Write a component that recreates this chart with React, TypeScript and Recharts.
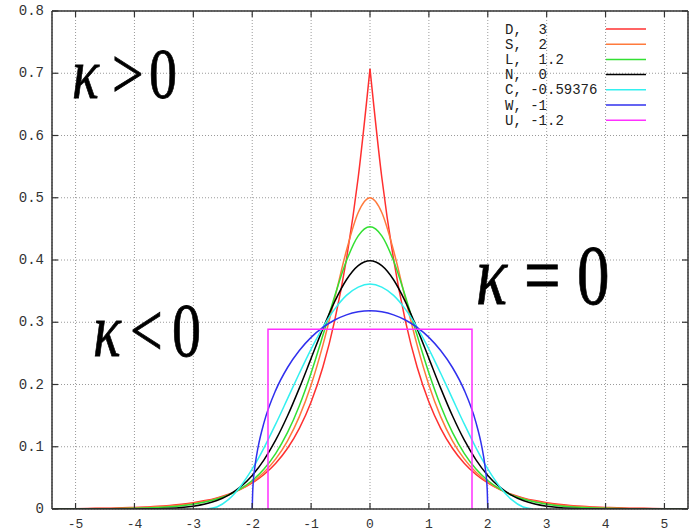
import { LineChart, Line, XAxis, YAxis, CartesianGrid, ReferenceLine } from "recharts";

// sample positions shared by the long-tailed curves
const X_GRID = [
  -5.4, -5.2, -5.0, -4.8, -4.6, -4.4, -4.2, -4.0, -3.8, -3.6, -3.4, -3.2, -3.0, -2.8,
  -2.6, -2.4, -2.2, -2.0, -1.8, -1.6, -1.4, -1.2, -1.0, -0.8, -0.6, -0.4, -0.2, 0,
  0.2, 0.4, 0.6, 0.8, 1.0, 1.2, 1.4, 1.6, 1.8, 2.0, 2.2, 2.4, 2.6, 2.8,
  3.0, 3.2, 3.4, 3.6, 3.8, 4.0, 4.2, 4.4, 4.6, 4.8, 5.0, 5.2, 5.4,
];

const D_VALUES = [
  0.0003, 0.0005, 0.0006, 0.0008, 0.0011, 0.0014, 0.0019, 0.0025, 0.0033, 0.0043, 0.0058, 0.0077, 0.0102, 0.0135,
  0.0179, 0.0237, 0.0315, 0.0418, 0.0555, 0.0736, 0.0976, 0.1296, 0.1719, 0.2281, 0.3027, 0.4016, 0.5329, 0.7071,
  0.5329, 0.4016, 0.3027, 0.2281, 0.1719, 0.1296, 0.0976, 0.0736, 0.0555, 0.0418, 0.0315, 0.0237, 0.0179, 0.0135,
  0.0102, 0.0077, 0.0058, 0.0043, 0.0033, 0.0025, 0.0019, 0.0014, 0.0011, 0.0008, 0.0006, 0.0005, 0.0003,
];

const S_VALUES = [
  0.0002, 0.0003, 0.0004, 0.0005, 0.0007, 0.001, 0.0014, 0.0019, 0.0026, 0.0035, 0.0048, 0.0066, 0.009, 0.0123,
  0.0168, 0.023, 0.0315, 0.0431, 0.059, 0.0805, 0.1096, 0.1484, 0.1993, 0.2633, 0.3383, 0.4153, 0.4763, 0.5,
  0.4763, 0.4153, 0.3383, 0.2633, 0.1993, 0.1484, 0.1096, 0.0805, 0.059, 0.0431, 0.0315, 0.023, 0.0168, 0.0123,
  0.009, 0.0066, 0.0048, 0.0035, 0.0026, 0.0019, 0.0014, 0.001, 0.0007, 0.0005, 0.0004, 0.0003, 0.0002,
];

const L_VALUES = [
  0.0001, 0.0001, 0.0002, 0.0003, 0.0004, 0.0006, 0.0009, 0.0013, 0.0018, 0.0026, 0.0038, 0.0054, 0.0078, 0.0112,
  0.016, 0.0227, 0.0323, 0.0457, 0.0643, 0.0895, 0.123, 0.166, 0.2186, 0.279, 0.3418, 0.3987, 0.4388, 0.4534,
  0.4388, 0.3987, 0.3418, 0.279, 0.2186, 0.166, 0.123, 0.0895, 0.0643, 0.0457, 0.0323, 0.0227, 0.016, 0.0112,
  0.0078, 0.0054, 0.0038, 0.0026, 0.0018, 0.0013, 0.0009, 0.0006, 0.0004, 0.0003, 0.0002, 0.0001, 0.0001,
];

const N_VALUES = [
  0, 0, 0, 0, 0, 0, 0.0001, 0.0001, 0.0003, 0.0006, 0.0012, 0.0024, 0.0044, 0.0079,
  0.0136, 0.0224, 0.0355, 0.054, 0.079, 0.1109, 0.1497, 0.1942, 0.242, 0.2897, 0.3332, 0.3683, 0.391, 0.3989,
  0.391, 0.3683, 0.3332, 0.2897, 0.242, 0.1942, 0.1497, 0.1109, 0.079, 0.054, 0.0355, 0.0224, 0.0136, 0.0079,
  0.0044, 0.0024, 0.0012, 0.0006, 0.0003, 0.0001, 0.0001, 0, 0, 0, 0, 0, 0,
];

// raised cosine, bounded support
const C_X = [
  -2.7662, -2.6, -2.4, -2.2, -2.0, -1.8, -1.6, -1.4, -1.2, -1.0, -0.8, -0.6, -0.4, -0.2, 0,
  0.2, 0.4, 0.6, 0.8, 1.0, 1.2, 1.4, 1.6, 1.8, 2.0, 2.2, 2.4, 2.6, 2.7662,
];
const C_VALUES = [
  0, 0.0032, 0.0154, 0.0362, 0.0643, 0.0983, 0.1367, 0.1773, 0.218, 0.2569, 0.2919, 0.3211, 0.3432, 0.3565, 0.3615,
  0.3565, 0.3432, 0.3211, 0.2919, 0.2569, 0.218, 0.1773, 0.1367, 0.0983, 0.0643, 0.0362, 0.0154, 0.0032, 0,
];

// Wigner semicircle
const W_X = [
  -2.0, -1.99, -1.95, -1.9, -1.8, -1.6, -1.4, -1.2, -1.0, -0.8, -0.6, -0.4, -0.2, 0,
  0.2, 0.4, 0.6, 0.8, 1.0, 1.2, 1.4, 1.6, 1.8, 1.9, 1.95, 1.99, 2.0,
];
const W_VALUES = [
  0, 0.0318, 0.0707, 0.0994, 0.1387, 0.191, 0.2273, 0.2546, 0.2757, 0.2917, 0.3036, 0.3119, 0.3167, 0.3183,
  0.3167, 0.3119, 0.3036, 0.2917, 0.2757, 0.2546, 0.2273, 0.191, 0.1387, 0.0994, 0.0707, 0.0318, 0,
];

// uniform box
const U_X = [-1.7321, -1.7321, 1.7321, 1.7321];
const U_VALUES = [0, 0.2887, 0.2887, 0];

const SERIES_NAMES = ["D", "S", "L", "N", "C", "W", "U"];
const SERIES_KURTOSIS = ["3", "2", "1.2", "0", "-0.59376", "-1", "-1.2"];
const SERIES_COLORS = ["#ff3030", "#ff7a3c", "#33e033", "#000000", "#33f0f0", "#3030ee", "#ff30ff"];

const X_TICKS = [-5, -4, -3, -2, -1, 0, 1, 2, 3, 4, 5];
const Y_TICKS = [0, 0.1, 0.2, 0.3, 0.4, 0.5, 0.6, 0.7, 0.8];

const PLOT_TOP = 11;
const PLOT_RIGHT = 688;
const FRAME = "#333";
const MONO = "'Liberation Mono', 'DejaVu Sans Mono', monospace";
const SERIF = "'Liberation Serif', 'Times New Roman', serif";

const pts = (xs: number[], ys: number[]) => xs.map((x, i) => ({ x, y: ys[i] }));

const gridPts = (ys: number[]) => pts(X_GRID, ys);

// laplace split at the cusp so the smooth interpolation keeps a sharp peak
const dPoints = gridPts(D_VALUES);
const dLeft = dPoints.filter((p) => p.x <= 0);
const dRight = dPoints.filter((p) => p.x >= 0);

const seriesData = [
  null,
  gridPts(S_VALUES),
  gridPts(L_VALUES),
  gridPts(N_VALUES),
  pts(C_X, C_VALUES),
  pts(W_X, W_VALUES),
  pts(U_X, U_VALUES),
];

function XTick(props: any) {
  const { x, y, payload } = props;
  return (
    <g>
      <line x1={x} y1={y} x2={x} y2={y - 6} stroke={FRAME} strokeWidth={1.2} />
      <line x1={x} y1={PLOT_TOP} x2={x} y2={PLOT_TOP + 6} stroke={FRAME} strokeWidth={1.2} />
      <text x={x} y={y + 15} textAnchor="middle" dominantBaseline="central" fontFamily={MONO} fontSize={13} fill="#333">
        {payload.value}
      </text>
    </g>
  );
}

function YTick(props: any) {
  const { x, y, payload } = props;
  const v = payload.value as number;
  return (
    <g>
      <line x1={x} y1={y} x2={x + 6} y2={y} stroke={FRAME} strokeWidth={1.2} />
      <line x1={PLOT_RIGHT} y1={y} x2={PLOT_RIGHT - 6} y2={y} stroke={FRAME} strokeWidth={1.2} />
      <text x={x - 8} y={y} textAnchor="end" dominantBaseline="central" fontFamily={MONO} fontSize={14} fill="#333">
        {v === 0 ? "0" : v.toFixed(1)}
      </text>
    </g>
  );
}

function Kappa({ x, y, size, rel, relX, zeroX }: { x: number; y: number; size: number; rel: string; relX: number; zeroX: number }) {
  const st = { fontFamily: SERIF, fontSize: size, fill: "#000", stroke: "#000", strokeWidth: 0.6 };
  return (
    <g transform={`translate(0, ${y}) scale(1, 1.3)`}>
      <text x={x} y={0} style={{ ...st, fontStyle: "italic" }}>κ</text>
      <text x={relX} y={0} style={st}>{rel}</text>
      <text x={zeroX} y={0} style={st}>0</text>
    </g>
  );
}

export default function App() {
  return (
    <div style={{ position: "absolute", left: 0, top: 0, width: 689, height: 532, background: "#fff" }}>
      <LineChart width={689} height={532} margin={{ top: PLOT_TOP, right: 1, bottom: 0, left: 0 }}>
        <CartesianGrid stroke="#9a9a9a" strokeDasharray="1 2" />
        <XAxis
          type="number"
          dataKey="x"
          domain={[-5.4, 5.4]}
          ticks={X_TICKS}
          allowDataOverflow
          height={23}
          tickSize={0}
          tickMargin={0}
          tickLine={false}
          axisLine={{ stroke: FRAME, strokeWidth: 1.5 }}
          tick={XTick}
        />
        <YAxis
          type="number"
          dataKey="y"
          domain={[0, 0.8]}
          ticks={Y_TICKS}
          allowDataOverflow
          width={52}
          tickSize={0}
          tickMargin={0}
          tickLine={false}
          axisLine={{ stroke: FRAME, strokeWidth: 1.5 }}
          tick={YTick}
        />
        <ReferenceLine y={0.8} stroke={FRAME} strokeWidth={1.5} />
        <ReferenceLine x={5.4} stroke={FRAME} strokeWidth={1.5} />
        <Line data={dLeft} dataKey="y" type="monotone" stroke={SERIES_COLORS[0]} strokeWidth={1.5} dot={false} isAnimationActive={false} />
        <Line data={dRight} dataKey="y" type="monotone" stroke={SERIES_COLORS[0]} strokeWidth={1.5} dot={false} isAnimationActive={false} />
        {seriesData.map((d, i) =>
          d ? (
            <Line
              key={SERIES_NAMES[i]}
              data={d}
              dataKey="y"
              type={i === 6 ? "linear" : "monotone"}
              stroke={SERIES_COLORS[i]}
              strokeWidth={1.5}
              dot={false}
              isAnimationActive={false}
            />
          ) : null
        )}
      </LineChart>
      <svg width={689} height={532} style={{ position: "absolute", left: 0, top: 0, pointerEvents: "none" }}>
        {SERIES_NAMES.map((name, i) => (
          <g key={name}>
            <text x={505} y={29.5 + i * 15.2} dominantBaseline="central" fontFamily={MONO} fontSize={14} fill="#222" style={{ whiteSpace: "pre" }}>
              {`${name}, ${SERIES_KURTOSIS[i].startsWith("-") ? "" : " "}${SERIES_KURTOSIS[i]}`}
            </text>
            <line x1={606} x2={646} y1={29 + i * 15.2} y2={29 + i * 15.2} stroke={SERIES_COLORS[i]} strokeWidth={1.5} />
          </g>
        ))}
        <Kappa x={72} y={98} size={56} rel=">" relX={112} zeroX={149} />
        <Kappa x={476} y={304} size={65} rel="=" relX={524} zeroX={577} />
        <Kappa x={93} y={356} size={58} rel="<" relX={130} zeroX={172} />
      </svg>
    </div>
  );
}
